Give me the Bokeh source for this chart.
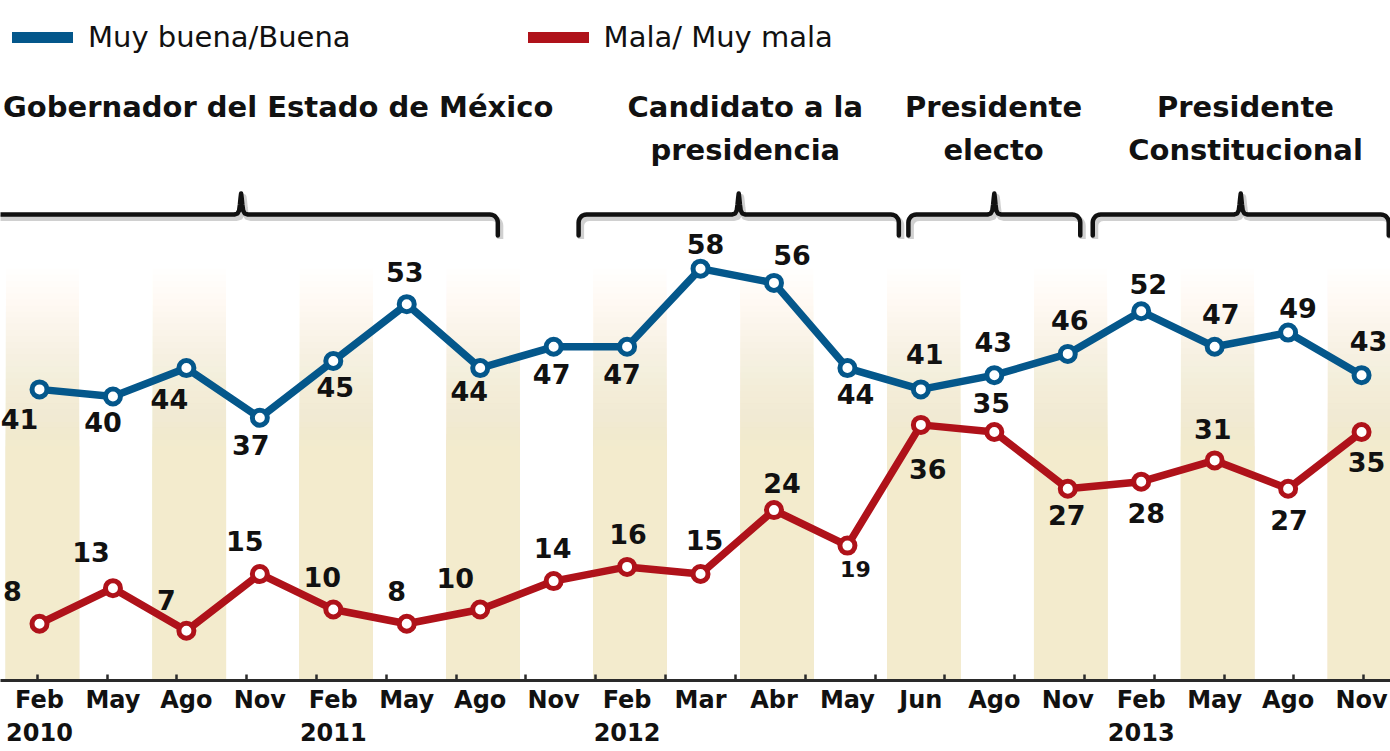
import numpy as np
from bokeh.plotting import figure
from bokeh.models import ColumnDataSource, Range1d, FixedTicker, Legend, LegendItem
from bokeh.embed import file_html
from bokeh.resources import INLINE
from bokeh.core.properties import value

# ---------------- data ----------------
months = ["Feb", "May", "Ago", "Nov", "Feb", "May", "Ago", "Nov", "Feb", "Mar",
          "Abr", "May", "Jun", "Ago", "Nov", "Feb", "May", "Ago", "Nov"]
years = {0: "2010", 4: "2011", 8: "2012", 15: "2013"}
good = [41, 40, 44, 37, 45, 53, 44, 47, 47, 58, 56, 44, 41, 43, 46, 52, 47, 49, 43]
bad = [8, 13, 7, 15, 10, 8, 10, 14, 16, 15, 24, 19, 36, 35, 27, 28, 31, 27, 35]
series_names = ["Muy buena/Buena", "Mala/ Muy mala"]
periods = ["Gobernador del Estado de México", "Candidato a la\npresidencia",
           "Presidente\nelecto", "Presidente\nConstitucional"]

# ---------------- layout / style constants ----------------
BLUE = "#04578B"
RED = "#AF121A"
STRIPE = "#F3EBCD"
INK = "#111111"
W, H = 1390, 751
BOTTOM = 71
X0, X1 = -0.531, 18.394
Y0, Y1 = 0.0, 95.77
SX = W / (X1 - X0)            # px per index unit
SY = (H - BOTTOM) / (Y1 - Y0)  # px per value unit

# label offsets (px, screen) for each point
good_dx = [-20, -10, -17, -9, 2, -2, -11, -2, -5, 5, 18, 8, 4, -1, 2, 7, 6, 10, 7]
good_dy = [30, 26, 31, 27, 26, -32, 23, 27, 27, -25, -28, 26, -35, -33, -34, -27, -33, -25, -34]
bad_dx = [-27, -22, -20, -15, -11, -10, -25, -1, 1, 4, 8, 8, 7, -3, -1, 5, -2, 1, 5]
bad_dy = [-33, -36, -31, -33, -32, -33, -31, -33, -33, -34, -27, 23, 44, -29, 26, 31, -31, 31, 30]
bad_size = ["27px"] * len(bad)
bad_size[11] = "22px"

bracket_left = [-0.75, 7.34, 11.83, 14.34]
bracket_right = [6.24, 11.70, 14.17, 18.37]
heading_x = [3.25, 9.61, 12.99, 16.42]
heading_top = 83.1
bracket_bar, bracket_end = 65.63, 62.68

idx = list(range(len(months)))

p = figure(width=W, height=H, x_range=Range1d(X0, X1), y_range=Range1d(Y0, Y1),
           output_backend="svg", toolbar_location=None, y_axis_location=None,
           min_border_left=0, min_border_right=0, min_border_top=0,
           min_border_bottom=BOTTOM)
p.outline_line_color = None
p.grid.visible = False
p.background_fill_color = "white"
p.border_fill_color = "white"

# ---------------- stripes with vertical fade ----------------
n = 30
tops = np.linspace(58.0, 33.0, n)
L, R, B, T, A = [], [], [], [], []
for j in range(n):
    a = 1.0 / (n - j)
    for i in idx:
        if i % 2 == 0:
            L.append(i - 0.46)
            R.append(i + 0.54)
            B.append(0)
            T.append(float(tops[j]))
            A.append(a)
p.quad(left=L, right=R, bottom=B, top=T, fill_color=STRIPE, fill_alpha=A, line_color=None)

# ---------------- brackets ----------------
def bracket(xl, xr):
    bar = bracket_bar
    end = bracket_end
    r = 8.0
    xs, ys = [xl], [end]
    cx, cy = xl + r / SX, bar - r / SY
    for t in np.linspace(np.pi, np.pi / 2, 9):
        xs.append(cx + r * np.cos(t) / SX)
        ys.append(cy + r * np.sin(t) / SY)
    mid = (xl + xr) / 2
    spike = [(-7, 0), (-3.5, 1.2), (-2, 4), (-1.2, 10), (-0.5, 17), (0, 21)]
    for dx, dy in spike:
        xs.append(mid + dx / SX)
        ys.append(bar + dy / SY)
    for dx, dy in reversed(spike[:-1]):
        xs.append(mid - dx / SX)
        ys.append(bar + dy / SY)
    cx = xr - r / SX
    for t in np.linspace(np.pi / 2, 0, 9):
        xs.append(cx + r * np.cos(t) / SX)
        ys.append(cy + r * np.sin(t) / SY)
    xs.append(xr)
    ys.append(end)
    return xs, ys

bx, by = [], []
for a_, b_ in zip(bracket_left, bracket_right):
    xs, ys = bracket(a_, b_)
    bx.append(xs)
    by.append(ys)
p.multi_line(xs=[[x + 2.5 / SX for x in xs] for xs in bx],
             ys=[[y - 3.5 / SY for y in ys] for ys in by],
             line_color="#777777", line_alpha=0.35, line_width=6, line_join="round")
p.multi_line(xs=bx, ys=by, line_color=INK, line_width=4.5, line_join="round", line_cap="round")

# ---------------- headings ----------------
p.text(x=heading_x, y=[heading_top] * 4, text=periods, text_font=value("DejaVu Sans"),
       text_font_style="bold", text_font_size="29px", text_color=INK,
       text_align="center", text_baseline="top", text_line_height=1.26)

# ---------------- series ----------------
p.line(idx, good, line_color=BLUE, line_width=7.5, line_join="round")
p.line(idx, bad, line_color=RED, line_width=7.5, line_join="round")
p.scatter(idx, good, size=15, fill_color="white", line_color=BLUE, line_width=5)
p.scatter(idx, bad, size=15, fill_color="white", line_color=RED, line_width=5)

src_g = ColumnDataSource(dict(x=idx, y=good, t=[str(v) for v in good], dx=good_dx, dy=good_dy))
src_b = ColumnDataSource(dict(x=idx, y=bad, t=[str(v) for v in bad], dx=bad_dx, dy=bad_dy, fs=bad_size))
p.text(x="x", y="y", text="t", x_offset="dx", y_offset="dy", source=src_g,
       text_font=value("DejaVu Sans"), text_font_style="bold", text_font_size="27px",
       text_color=INK, text_align="center", text_baseline="middle")
p.text(x="x", y="y", text="t", x_offset="dx", y_offset="dy", text_font_size="fs", source=src_b,
       text_font=value("DejaVu Sans"), text_font_style="bold",
       text_color=INK, text_align="center", text_baseline="middle")

# ---------------- legend (swatch renderers lie outside the visible range) ----------------
lg1 = p.line(x=[-10, -9], y=[-10, -10], line_color=BLUE, line_width=11, line_cap="round")
lg2 = p.line(x=[-10, -9], y=[-10, -10], line_color=RED, line_width=11, line_cap="round")
legend = Legend(items=[LegendItem(label=series_names[0], renderers=[lg1]),
                       LegendItem(label=series_names[1], renderers=[lg2])],
                location="top_left", orientation="horizontal",
                glyph_width=61, glyph_height=50, label_height=50, label_standoff=15,
                spacing=177, padding=12, margin=0,
                border_line_alpha=0, background_fill_alpha=0,
                label_text_font="DejaVu Sans", label_text_font_size="29px",
                label_text_color=INK)
p.add_layout(legend)

# ---------------- x axis ----------------
xa = p.xaxis[0]
xa.ticker = FixedTicker(ticks=idx, minor_ticks=[float(v) for v in np.linspace(-0.03, 18.03, 20)])
xa.major_label_overrides = {i: (m + "\n" + years[i] if i in years else m) for i, m in enumerate(months)}
xa.major_tick_in = 0
xa.major_tick_out = 0
xa.minor_tick_in = 6
xa.minor_tick_out = 0
xa.minor_tick_line_width = 2.5
xa.minor_tick_line_color = "#2a2a2a"
xa.axis_line_width = 3
xa.axis_line_color = "#2a2a2a"
xa.major_label_text_font = "DejaVu Sans"
xa.major_label_text_font_style = "bold"
xa.major_label_text_font_size = "24px"
xa.major_label_text_color = INK
xa.major_label_standoff = 5
xa.major_label_text_line_height = 1.2

open("out.html", "w").write(file_html(p, INLINE))
